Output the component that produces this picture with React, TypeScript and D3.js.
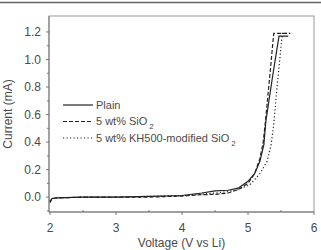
import React from "react";
import * as d3 from "d3";

// curves (V vs Li, mA)
const plainV = [2.0, 2.03, 2.1, 2.5, 3.0, 3.5, 4.0, 4.3, 4.5, 4.7, 4.85, 5.0, 5.1, 5.18, 5.24, 5.27, 5.38, 5.47, 5.61];
const plainI = [-0.03, -0.01, -0.005, 0.0, 0.0, 0.005, 0.012, 0.03, 0.045, 0.05, 0.065, 0.115, 0.17, 0.26, 0.38, 0.55, 0.9, 1.17, 1.17];

const sio2V = [2.0, 2.03, 2.1, 2.5, 3.0, 3.5, 4.0, 4.3, 4.5, 4.7, 4.85, 5.0, 5.1, 5.18, 5.23, 5.26, 5.32, 5.39, 5.64];
const sio2I = [-0.04, -0.012, -0.006, 0.0, 0.0, 0.0, 0.008, 0.018, 0.02, 0.03, 0.055, 0.1, 0.17, 0.28, 0.4, 0.53, 0.83, 1.19, 1.19];

const khV = [2.0, 2.03, 2.1, 2.5, 3.0, 3.5, 4.0, 4.3, 4.5, 4.7, 4.85, 5.03, 5.18, 5.29, 5.35, 5.39, 5.45, 5.52, 5.64];
const khI = [-0.03, -0.01, -0.005, 0.0, 0.0, 0.005, 0.01, 0.022, 0.03, 0.04, 0.055, 0.09, 0.17, 0.26, 0.38, 0.53, 0.85, 1.19, 1.19];

const xTicks = [2, 3, 4, 5, 6];
const xMinor = [2.5, 3.5, 4.5, 5.5];
const yTicks = [0.0, 0.2, 0.4, 0.6, 0.8, 1.0, 1.2];
const yMinor = [-0.1, 0.1, 0.3, 0.5, 0.7, 0.9, 1.1];

const series = [
  { name: "Plain", v: plainV, i: plainI, dash: "none" },
  { name: "5 wt% SiO", v: sio2V, i: sio2I, dash: "4,2" },
  { name: "5 wt% KH500-modified SiO", v: khV, i: khI, dash: "1.2,2.3" },
];

const W = 321;
const H = 250;
const left = 49, right = 314, top = 16, bottom = 212;
const font = "Liberation Sans, Arial, sans-serif";
const ink = "#4a4a4a";

export default function App() {
  const x = d3.scaleLinear().domain([2, 6]).range([left + 1, right]);
  const y = d3.scaleLinear().domain([-0.108, 1.316]).range([bottom, top]);

  const line = (s) =>
    d3.line()
      .x((d) => x(d[0]))
      .y((d) => y(d[1]))(s.v.map((v, k) => [v, s.i[k]]));

  return (
    <svg width={W} height={H} style={{ position: "absolute", left: 0, top: 0 }}>
      <rect width={W} height={H} fill="#fff" />
      <line x1={0} x2={W} y1={2.5} y2={2.5} stroke="#666" strokeWidth={1.6} />

      {/* frame */}
      <rect x={left} y={top} width={right - left} height={bottom - top} fill="none" stroke="#999" strokeWidth={1} />
      <line x1={left} x2={left} y1={top} y2={bottom} stroke="#777" />
      <line x1={left} x2={right} y1={bottom} y2={bottom} stroke="#777" />

      {/* y axis */}
      {yTicks.map((t) => (
        <g key={"y" + t}>
          <line x1={left - 3} x2={left} y1={y(t)} y2={y(t)} stroke="#777" />
          <text x={left - 8} y={y(t)} dy="0.35em" textAnchor="end" fontSize={12} fill={ink} fontFamily={font}>
            {t.toFixed(1)}
          </text>
        </g>
      ))}
      {yMinor.map((t) => (
        <line key={"ym" + t} x1={left - 2} x2={left} y1={y(t)} y2={y(t)} stroke="#777" />
      ))}

      {/* x axis */}
      {xTicks.map((t) => (
        <g key={"x" + t}>
          <line x1={x(t)} x2={x(t)} y1={bottom} y2={bottom + 3} stroke="#777" />
          <text x={x(t)} y={bottom + 20} textAnchor="middle" fontSize={12} fill={ink} fontFamily={font}>
            {t}
          </text>
        </g>
      ))}
      {xMinor.map((t) => (
        <line key={"xm" + t} x1={x(t)} x2={x(t)} y1={bottom - 2} y2={bottom} stroke="#777" />
      ))}

      <text x={(left + right) / 2} y={247} textAnchor="middle" fontSize={12} fill={ink} fontFamily={font}>
        Voltage (V vs Li)
      </text>
      <text transform={`translate(12,${(top + bottom) / 2}) rotate(-90)`} textAnchor="middle" fontSize={12} fill={ink} fontFamily={font}>
        Current (mA)
      </text>

      {/* curves */}
      {series.map((s) => (
        <path key={s.name} d={line(s)} fill="none" stroke="#222" strokeWidth={1.2} strokeDasharray={s.dash} />
      ))}

      {/* legend */}
      {series.map((s, k) => {
        const ly = 105 + k * 16.5;
        return (
          <g key={"lg" + k}>
            <line x1={63} x2={93} y1={ly} y2={ly} stroke="#222" strokeWidth={1.2} strokeDasharray={s.dash} />
            <text x={96} y={ly} dy="0.35em" fontSize={11} fill={ink} fontFamily={font}>
              {s.name}
              {k > 0 && (
                <tspan fontSize={8} dx={2} dy={4}>2</tspan>
              )}
            </text>
          </g>
        );
      })}
    </svg>
  );
}
